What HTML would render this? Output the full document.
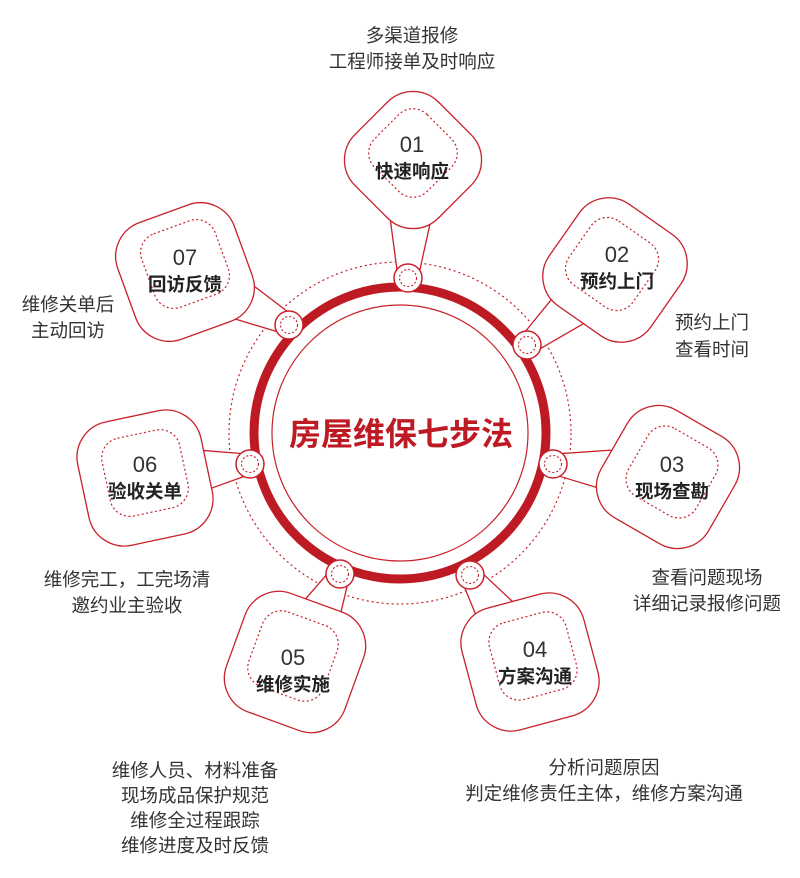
<!DOCTYPE html>
<html><head><meta charset="utf-8"><style>
html,body{margin:0;padding:0;background:#fff;}
svg{display:block;}
text{font-family:"Liberation Sans","Noto Sans CJK SC",sans-serif;}
.d{font-size:18.5px;fill:#333;text-anchor:middle;}
.n{font-size:22px;fill:#333;text-anchor:middle;}
.t{font-size:18.5px;fill:#222;font-weight:bold;text-anchor:middle;}
</style></head><body>
<svg id="s" width="800" height="878" viewBox="0 0 800 878" xmlns="http://www.w3.org/2000/svg">
<circle cx="400" cy="433" r="171" fill="none" stroke="#c8202a" stroke-width="1.2" stroke-dasharray="2,3"/>
<circle cx="400" cy="433" r="146" fill="none" stroke="#be1a24" stroke-width="9"/>
<circle cx="400" cy="433" r="128" fill="none" stroke="#c8202a" stroke-width="1.2"/>
<g id="shapes"></g>
<text x="401" y="445" font-size="32" font-weight="bold" fill="#be1a24" text-anchor="middle">房屋维保七步法</text>

<text class="n" x="412" y="152">01</text><text class="t" x="412" y="178">快速响应</text>
<text class="n" x="617" y="262">02</text><text class="t" x="617" y="288">预约上门</text>
<text class="n" x="672" y="472">03</text><text class="t" x="672" y="498">现场查勘</text>
<text class="n" x="535" y="657">04</text><text class="t" x="535" y="683">方案沟通</text>
<text class="n" x="293" y="665">05</text><text class="t" x="293" y="691">维修实施</text>
<text class="n" x="145" y="472">06</text><text class="t" x="145" y="498">验收关单</text>
<text class="n" x="185" y="265">07</text><text class="t" x="185" y="291">回访反馈</text>

<text class="d" x="412" y="42">多渠道报修</text>
<text class="d" x="412" y="68">工程师接单及时响应</text>
<text class="d" x="712" y="329">预约上门</text>
<text class="d" x="712" y="356">查看时间</text>
<text class="d" x="707" y="584">查看问题现场</text>
<text class="d" x="707" y="610">详细记录报修问题</text>
<text class="d" x="604" y="774">分析问题原因</text>
<text class="d" x="604" y="800">判定维修责任主体，维修方案沟通</text>
<text class="d" x="195" y="777">维修人员、材料准备</text>
<text class="d" x="195" y="802">现场成品保护规范</text>
<text class="d" x="195" y="827">维修全过程跟踪</text>
<text class="d" x="195" y="852">维修进度及时反馈</text>
<text class="d" x="127" y="586">维修完工，工完场清</text>
<text class="d" x="127" y="612">邀约业主验收</text>
<text class="d" x="68" y="311">维修关单后</text>
<text class="d" x="68" y="337">主动回访</text>
</svg>
<script>
var R="#c8202a",g=document.getElementById("shapes"),ns="http://www.w3.org/2000/svg";
function el(t,a){var e=document.createElementNS(ns,t);for(var k in a)e.setAttribute(k,a[k]);g.appendChild(e);return e;}
var P=[
 [413,160,45,118,408,278,0,-7],
 [615,270,35,124,527,345,-3,-6],
 [668,477,30,124,553,464,4,-5],
 [530,662,-15,126,470,575,3,-6],
 [295,662,20,126,340,574,-2,-6],
 [145,478,-12,126,250,464,0,-5],
 [185,272,-20,124,289,325,0,-8]];
P.forEach(function(p){
 var cx=p[0],cy=p[1],a=p[2],s=p[3],nx=p[4],ny=p[5];
 var dx=nx-cx,dy=ny-cy,L=Math.hypot(dx,dy),ux=dx/L,uy=dy/L,px=-uy,py=ux;
 var bx=cx+ux*50,by=cy+uy*50,w=22,w2=10;
 el("polygon",{points:[(bx+px*w)+","+(by+py*w),(nx+px*w2)+","+(ny+py*w2),(nx-px*w2)+","+(ny-py*w2),(bx-px*w)+","+(by-py*w)].join(" "),fill:"#fff",stroke:R,"stroke-width":1.3,"stroke-linejoin":"round"});
 el("rect",{x:cx-s/2,y:cy-s/2,width:s,height:s,rx:36,fill:"#fff",stroke:R,"stroke-width":1.3,transform:"rotate("+a+" "+cx+" "+cy+")"});
 var ix=cx+p[6],iy=cy+p[7],si=s*0.63;
 el("rect",{x:ix-si/2,y:iy-si/2,width:si,height:si,rx:20,fill:"none",stroke:R,"stroke-width":1.2,"stroke-dasharray":"2,2.5",transform:"rotate("+a+" "+ix+" "+iy+")"});
 el("circle",{cx:nx,cy:ny,r:14,fill:"#fff",stroke:R,"stroke-width":1.5});
 el("circle",{cx:nx,cy:ny,r:8.5,fill:"none",stroke:R,"stroke-width":1.1,"stroke-dasharray":"2,2"});
});
</script>
</body></html>
